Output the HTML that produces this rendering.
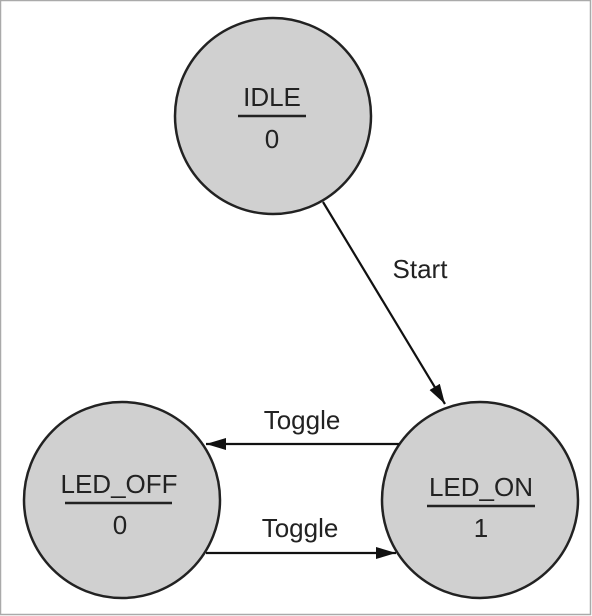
<!DOCTYPE html>
<html><head><style>
html,body{margin:0;padding:0;background:#fff;}
svg{display:block;}
text{font-family:"Liberation Sans",sans-serif;font-size:26px;fill:#222;text-anchor:middle;}
</style></head><body>
<svg width="592" height="616" viewBox="0 0 592 616">
<rect x="0.5" y="0.5" width="590" height="614" fill="#fff" stroke="#aaa" stroke-width="1.5"/>
<defs>
<marker id="b" markerWidth="20" markerHeight="12" refX="20" refY="6" orient="auto" markerUnits="userSpaceOnUse"><path d="M0,0 L20,6 L0,12 Z" fill="#111"/></marker></defs>
<circle cx="273" cy="116" r="98" fill="#d0d0d0" stroke="#222" stroke-width="2.5"/>
<circle cx="122" cy="500" r="98" fill="#d0d0d0" stroke="#222" stroke-width="2.5"/>
<circle cx="480" cy="500" r="98" fill="#d0d0d0" stroke="#222" stroke-width="2.5"/>
<line x1="323" y1="202" x2="445" y2="404" stroke="#111" stroke-width="2.2" marker-end="url(#b)"/>
<line x1="399" y1="444" x2="206" y2="444" stroke="#111" stroke-width="2.2" marker-end="url(#b)"/>
<line x1="206" y1="553" x2="396" y2="553" stroke="#111" stroke-width="2.2" marker-end="url(#b)"/>
<text x="272" y="106">IDLE</text>
<line x1="238" y1="116" x2="306" y2="116" stroke="#222" stroke-width="2.5"/>
<text x="272" y="148">0</text>
<text x="119" y="493">LED_OFF</text>
<line x1="65" y1="503" x2="172" y2="503" stroke="#222" stroke-width="2.5"/>
<text x="120" y="534">0</text>
<text x="481" y="496">LED_ON</text>
<line x1="427" y1="506" x2="535" y2="506" stroke="#222" stroke-width="2.5"/>
<text x="481" y="537">1</text>
<text x="420" y="278">Start</text>
<text x="302" y="429">Toggle</text>
<text x="300" y="537">Toggle</text>
</svg>
</body></html>
